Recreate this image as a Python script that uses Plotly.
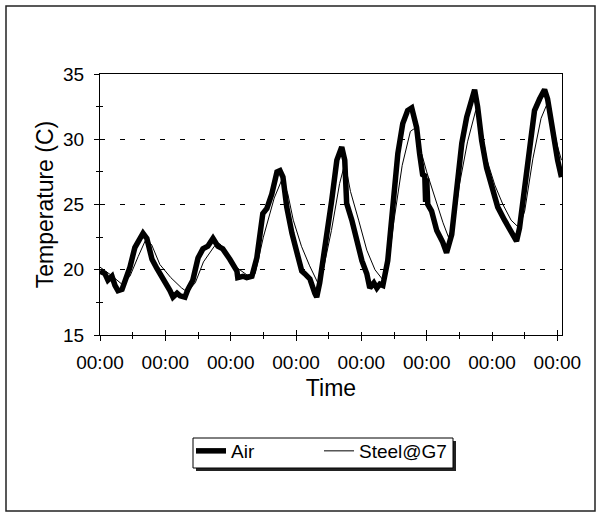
import pandas as pd
import plotly.graph_objects as go

# time since start (hours) and temperature (C)
air_hours = [0.0, 1.8, 2.9, 4.4, 5.5, 6.6, 8.1, 9.2, 11.0, 12.8, 14.7, 15.8, 17.2, 19.1,
             20.9, 23.1, 25.7, 26.8, 28.3, 29.4, 31.2, 32.3, 34.1, 36.0, 37.8, 39.6,
             41.5, 43.3, 45.1, 47.7, 50.3, 50.6, 52.5, 53.9, 55.8, 57.6, 59.8, 61.3,
             63.1, 65.0, 66.1, 67.2, 68.6, 70.5, 72.3, 74.1, 75.2, 77.1, 78.9, 79.6,
             80.7, 83.3, 85.1, 87.0, 88.1, 88.8, 89.9, 90.6, 92.5, 94.3, 96.2, 98.0,
             99.1, 100.6, 101.7, 102.8, 103.9, 105.7, 107.5, 109.4, 111.2, 113.0,
             114.5, 116.3, 117.4, 118.5, 119.3, 119.6, 120.0, 120.4, 121.8, 123.7,
             125.9, 127.3, 129.2, 131.0, 132.9, 134.7, 136.5, 137.6, 138.7, 140.2,
             142.0, 144.2, 146.1, 148.6, 151.2, 153.0, 154.1, 156.0, 157.8, 159.6,
             161.5, 163.3, 164.4, 165.9, 167.0, 168.1, 169.5]
air_temp = [19.9, 19.7, 19.2, 19.5, 18.8, 18.4, 18.5, 19.1, 20.2, 21.7, 22.4, 22.8, 22.4, 20.8,
            20.1, 19.4, 18.4, 17.9, 18.2, 18.0, 17.9, 18.5, 19.2, 20.9, 21.6, 21.8,
            22.4, 21.8, 21.6, 20.8, 19.9, 19.4, 19.5, 19.4, 19.5, 20.9, 24.3, 24.7,
            25.8, 27.5, 27.6, 27.1, 24.8, 22.8, 21.5, 19.9, 19.7, 19.3, 18.2, 17.9,
            19.0, 22.5, 25.3, 28.4, 29.2, 29.4, 28.4, 25.1, 23.8, 22.2, 20.7, 19.7,
            18.6, 19.0, 18.6, 18.9, 18.8, 20.7, 25.3, 28.9, 31.2, 32.2,
            32.4, 30.9, 28.9, 27.3, 27.2, 25.2, 27.0, 25.0, 24.5, 23.0,
            22.1, 21.3, 22.7, 25.8, 29.7, 31.7, 33.2, 33.8, 32.5, 29.9,
            27.8, 26.3, 24.8, 23.8, 22.8, 22.2, 23.2, 26.3, 29.7, 32.2,
            33.1, 33.8, 33.1, 30.9, 29.4, 28.4, 27.1]

steel_hours = [0.0, 4, 8, 11, 14, 17, 19, 22, 26, 30, 32, 35, 38, 42, 44, 47, 50, 54, 57,
               60, 64, 67, 69, 71, 74, 77, 80, 82, 85, 88, 90, 92, 95, 98, 101, 104,
               106, 108, 111, 114, 116, 118, 120, 123, 126, 128, 130, 132, 135, 138,
               140, 142, 145, 148, 151, 154, 156, 159, 162, 164, 166, 168, 169.5]
steel_temp = [20.2, 19.6, 18.9, 19.5, 21.0, 22.4, 21.9, 20.4, 19.4, 18.6, 18.3, 19.0, 20.6,
              21.8, 22.0, 21.2, 20.2, 19.6, 19.7, 22.5, 25.5, 27.0, 25.8, 23.8, 21.8,
              20.3, 19.0, 20.0, 23.0, 26.6, 28.2, 26.0, 23.8, 21.5, 20.0, 19.2, 20.5,
              23.8, 28.0, 30.6, 30.9, 29.0, 27.5, 25.5, 23.6, 22.5, 23.5, 26.5, 29.8,
              32.2, 31.0, 28.5, 26.5, 25.0, 23.8, 23.2, 24.5, 28.5, 31.6, 32.6, 31.5,
              29.5, 28.4]

start = pd.Timestamp("2000-01-01 00:00")
air_t = start + pd.to_timedelta(air_hours, unit="h")
steel_t = start + pd.to_timedelta(steel_hours, unit="h")
x_end = start + pd.Timedelta(hours=169.7)

FONT = "Liberation Sans, Arial, sans-serif"

fig = go.Figure()
fig.add_trace(go.Scatter(x=air_t, y=air_temp, name="Air", mode="lines",
                         line=dict(color="black", width=5.5), legend="legend"))
fig.add_trace(go.Scatter(x=steel_t, y=steel_temp, name="Steel@G7", mode="lines",
                         line=dict(color="black", width=1), xaxis="x2", yaxis="y2",
                         legend="legend2"))

# plot box in pixels: left 100, right 562, top 74, bottom 335
W, H = 602, 517
L, R, T, B = 100, 40, 74, 182
pw, ph = W - L - R, H - T - B

def px(x):
    return (x - L) / pw

def py(y):
    return (H - B - y) / ph

leg_common = dict(orientation="h", y=py(432), xanchor="left", yanchor="top",
                  bgcolor="rgba(0,0,0,0)", borderwidth=0, font=dict(size=19),
                  itemwidth=30)

fig.update_layout(
    width=W, height=H,
    margin=dict(l=L, r=R, t=T, b=B),
    paper_bgcolor="white", plot_bgcolor="white",
    font=dict(family=FONT, size=19, color="black"),
    showlegend=True,
    legend=dict(x=px(191), **leg_common),
    legend2=dict(x=px(319), **leg_common),
    xaxis=dict(type="date", range=[start, x_end], tick0=start, dtick=86400000,
               tickformat="%H:%M", showline=True, linecolor="black", linewidth=1,
               mirror=True, ticks="outside", ticklen=5, tickcolor="black",
               ticklabelstandoff=5,
               minor=dict(dtick=43200000, ticks="outside", ticklen=3, tickcolor="black"),
               showgrid=False, zeroline=False,
               title=dict(text="Time", standoff=8)),
    yaxis=dict(range=[15, 35], dtick=5, showline=True, linecolor="black", linewidth=1,
               mirror=True, ticks="outside", ticklen=5, tickcolor="black",
               ticklabelstandoff=6,
               minor=dict(dtick=2.5, ticks="outside", ticklen=3, tickcolor="black"),
               showgrid=True, gridcolor="black", gridwidth=1, griddash="5px,15px",
               zeroline=False,
               title=dict(text="Temperature (C)", standoff=3)),
    xaxis2=dict(overlaying="x", matches="x", type="date", showticklabels=False,
                ticks="inside", ticklen=5, tickcolor="black", showgrid=False,
                zeroline=False, showline=False, anchor="y",
                minor=dict(dtick=43200000, ticks="inside", ticklen=3, tickcolor="black")),
    yaxis2=dict(overlaying="y", matches="y", showticklabels=False,
                ticks="inside", ticklen=5, tickcolor="black", showgrid=False,
                zeroline=False, showline=False, anchor="x",
                minor=dict(dtick=2.5, ticks="inside", ticklen=3, tickcolor="black")),
)

# outer chart border, legend shadow and legend box
fig.add_shape(type="rect", xref="paper", yref="paper",
              x0=px(6), x1=px(595), y0=py(511), y1=py(6),
              line=dict(color="#222", width=1.5), layer="below")
fig.add_shape(type="rect", xref="paper", yref="paper",
              x0=px(196), x1=px(456), y0=py(471), y1=py(441),
              line=dict(width=0), fillcolor="#222", layer="below")
fig.add_shape(type="rect", xref="paper", yref="paper",
              x0=px(193), x1=px(453), y0=py(468), y1=py(438),
              line=dict(color="black", width=1), fillcolor="white", layer="below")

fig.write_html("out.html", config={"displayModeBar": False},
               post_script="document.body.style.margin='0';")
